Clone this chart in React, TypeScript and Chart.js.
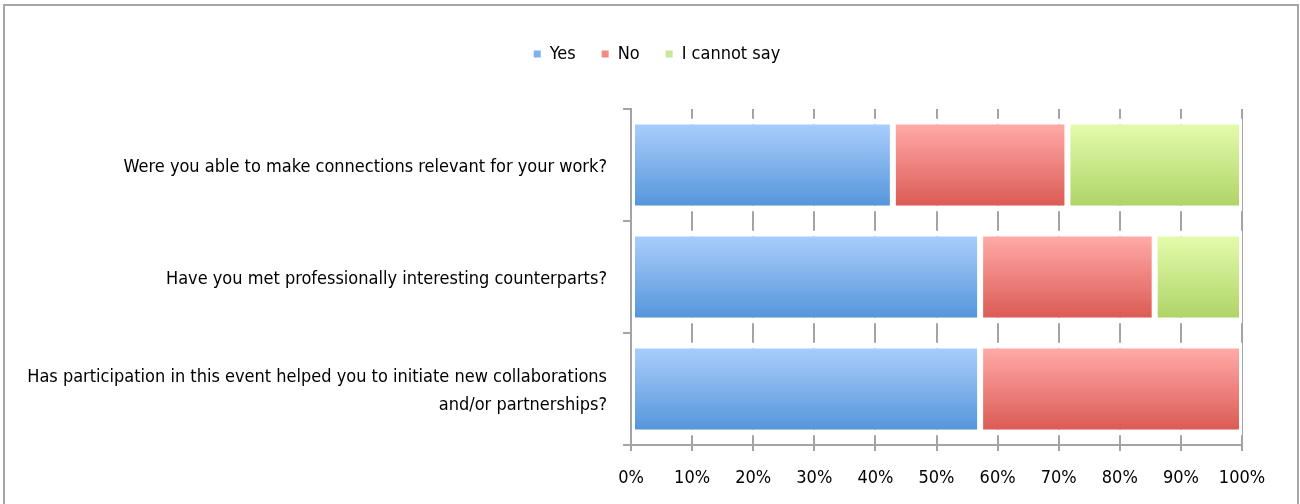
import React, { useEffect, useRef } from 'react';
import { Chart, registerables } from 'chart.js';

Chart.register(...registerables);

// ---- data ----
const categories: (string | string[])[] = [
  'Were you able to make connections relevant for your work?',
  'Have you met professionally interesting counterparts?',
  ['Has participation in this event helped you to initiate new collaborations', 'and/or partnerships?'],
];
const seriesNames = ['Yes', 'No', 'I cannot say'];
const yesValues = [42.86, 57.14, 57.14];
const noValues = [28.57, 28.57, 42.86];
const cannotSayValues = [28.57, 14.29, 0];
const xTickValues = [0, 10, 20, 30, 40, 50, 60, 70, 80, 90, 100];
const xTickLabels = ['0%', '10%', '20%', '30%', '40%', '50%', '60%', '70%', '80%', '90%', '100%'];

// ---- style ----
const FONT = "'Liberation Sans Narrow', 'DejaVu Sans Condensed', sans-serif";
const FONT_SIZE = 18;
const AXIS_COLOR = '#a3a3a3';
const BAR_PCT = 0.83;
const gradients = [
  ['#a9cdfb', '#5696db'],
  ['#ffaaa7', '#dc5b55'],
  ['#e4fbaa', '#afd468'],
];
const legendColors = ['#7eb1ef', '#ef8a85', '#c9e79a'];

function makeFill(idx: number) {
  return (ctx: any) => {
    const solid = legendColors[idx];
    if (ctx.type !== 'data') return solid;
    const chart = ctx.chart;
    const y = chart.scales && chart.scales.y;
    if (!y || !chart.chartArea || !isFinite(y.height) || y.height <= 0) return solid;
    const center = y.getPixelForValue(ctx.dataIndex);
    const band = y.height / categories.length;
    const half = (band * BAR_PCT) / 2 - 6;
    const g = chart.ctx.createLinearGradient(0, center - half, 0, center + half);
    g.addColorStop(0, gradients[idx][0]);
    g.addColorStop(1, gradients[idx][1]);
    return g;
  };
}

const framePlugin = {
  id: 'frame',
  beforeDraw(chart: any) {
    const c = chart.ctx;
    c.save();
    c.strokeStyle = '#a6a6a6';
    c.lineWidth = 2;
    c.beginPath();
    c.moveTo(4, 540);
    c.lineTo(4, 5);
    c.lineTo(1298, 5);
    c.lineTo(1298, 540);
    c.stroke();
    c.restore();
  },
};

const LEGEND_EXTRA = 36;
const LEGEND_LEFT = 72;
const legendSpacer = {
  id: 'legendSpacer',
  beforeLayout(chart: any) {
    const lg = chart.legend;
    if (lg && !lg.__patched) {
      const orig = lg.fit.bind(lg);
      lg.fit = () => {
        orig();
        lg.height += LEGEND_EXTRA;
      };
      lg.__patched = true;
    }
  },
  afterLayout(chart: any) {
    const lg = chart.legend;
    if (lg) {
      lg.left = LEGEND_LEFT;
      lg.width = lg.right - lg.left;
    }
  },
};

export default function App() {
  const ref = useRef<HTMLCanvasElement | null>(null);

  useEffect(() => {
    document.body.style.margin = '0';
    if (!ref.current) return;
    Chart.defaults.font.family = FONT;
    Chart.defaults.font.size = FONT_SIZE;
    Chart.defaults.color = '#000';

    const series = [yesValues, noValues, cannotSayValues];
    const chart = new Chart(ref.current, {
      type: 'bar',
      data: {
        labels: categories as any,
        datasets: series.map((vals, i) => ({
          label: seriesNames[i],
          data: vals,
          backgroundColor: makeFill(i) as any,
          borderColor: '#ffffff',
          borderWidth: { top: 6, bottom: 6, left: 3, right: 3 } as any,
          borderSkipped: false as any,
          barPercentage: BAR_PCT,
          categoryPercentage: 1,
        })),
      },
      options: {
        indexAxis: 'y',
        animation: false,
        responsive: true,
        maintainAspectRatio: false,
        layout: { padding: { top: 19, left: 0, right: 58, bottom: 0 } },
        plugins: {
          tooltip: { enabled: false },
          legend: {
            position: 'top',
            labels: {
              boxWidth: 7,
              boxHeight: 7,
              padding: 26,
              font: { size: FONT_SIZE, family: FONT },
              color: '#000',
              generateLabels: (ch: any) =>
                (Chart.defaults.plugins.legend.labels.generateLabels as any)(ch).map((l: any) => ({
                  ...l,
                  fillStyle: legendColors[l.datasetIndex],
                  strokeStyle: 'rgba(0,0,0,0)',
                  lineWidth: 0,
                })),
            },
          },
        },
        scales: {
          x: {
            type: 'linear',
            stacked: true,
            min: 0,
            max: 100,
            afterFit: (s: any) => {
              s.height = 59;
            },
            afterBuildTicks: (s: any) => {
              s.ticks = xTickValues.map((v) => ({ value: v }));
            },
            ticks: {
              padding: 17,
              font: { size: FONT_SIZE, family: FONT },
              color: '#000',
              callback: (v: any) => xTickLabels[xTickValues.indexOf(Number(v))] ?? '',
            },
            grid: {
              color: AXIS_COLOR,
              lineWidth: 2,
              tickLength: 6,
              drawOnChartArea: true,
            },
            border: { display: true, color: AXIS_COLOR, width: 2, z: 1 },
          },
          y: {
            type: 'category',
            stacked: true,
            afterFit: (s: any) => {
              s.width = 631;
            },
            ticks: {
              padding: 16,
              labelOffset: 2,
              font: { size: FONT_SIZE, family: FONT, lineHeight: 1.55 },
              color: '#000',
            },
            grid: {
              offset: true,
              drawOnChartArea: false,
              drawTicks: true,
              tickLength: 8,
              color: AXIS_COLOR,
              lineWidth: 2,
            },
            border: { display: true, color: AXIS_COLOR, width: 2, z: 1 },
          },
        },
      },
      plugins: [framePlugin, legendSpacer],
    });
    return () => chart.destroy();
  }, []);

  return (
    <div style={{ position: 'relative', width: 1300, height: 504 }}>
      <canvas ref={ref} />
    </div>
  );
}
